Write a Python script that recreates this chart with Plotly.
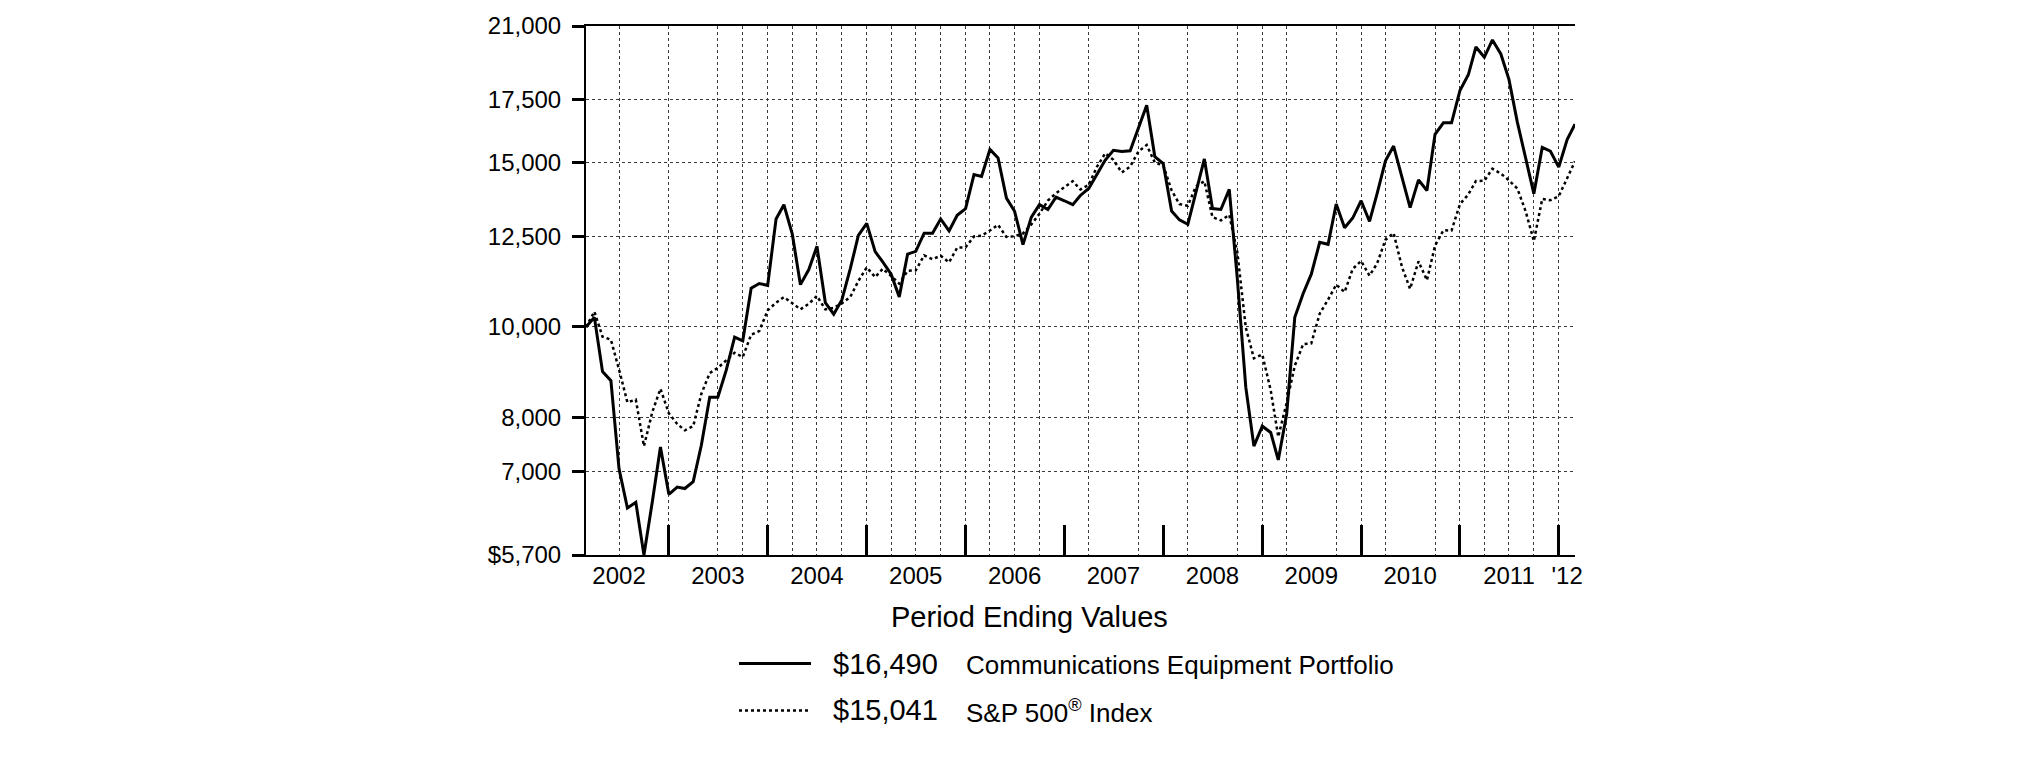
import math
import pandas as pd
import plotly.graph_objects as go

# ---------------- data ----------------
PERIODS = pd.date_range("2002-02-28", periods=121, freq="ME")  # month ends Feb-2002 .. Feb-2012

COMM_EQUIP = [
    10000, 10240, 8960, 8760, 7050, 6400, 6490, 5700, 6500, 7440,
    6620, 6740, 6715, 6830, 7470, 8410, 8410, 8990, 9755, 9665,
    11000, 11130, 11080, 13050, 13515, 12570, 11100, 11520, 12200, 10620,
    10320, 10690, 11540, 12530, 12910, 12040, 11740, 11390, 10770, 11970,
    12050, 12600, 12600, 13050, 12670, 13170, 13390, 14560, 14490, 15490,
    15170, 13740, 13300, 12250, 13110, 13520, 13360, 13770, 13650, 13520,
    13830, 14070, 14560, 15090, 15460, 15410, 15440, 16310, 17270, 15220,
    14960, 13310, 13020, 12880, 13950, 15130, 13390, 13360, 14040, 11240,
    8620, 7455, 7830, 7710, 7205, 8070, 10240, 10860, 11390, 12320,
    12260, 13540, 12770, 13080, 13650, 12970, 13890, 15060, 15620, 14490,
    13420, 14370, 14000, 16080, 16540, 16540, 17910, 18620, 19940, 19440,
    20290, 19600, 18410, 16570, 15200, 13890, 15570, 15430, 14830, 15870,
    16490,
]

SP500 = [
    10000, 10384, 9763, 9690, 9003, 8305, 8360, 7452, 8110, 8587,
    8082, 7874, 7752, 7830, 8479, 8925, 9041, 9203, 9383, 9286,
    9812, 9899, 10418, 10616, 10763, 10605, 10444, 10587, 10796, 10443,
    10484, 10599, 10766, 11200, 11582, 11308, 11541, 11339, 11129, 11482,
    11499, 11932, 11818, 11919, 11727, 12160, 12168, 12499, 12525, 12685,
    12861, 12484, 12505, 12590, 12879, 13217, 13656, 13903, 14102, 14324,
    14034, 14198, 14837, 15345, 15096, 14638, 14850, 15407, 15662, 14997,
    14892, 14004, 13539, 13481, 14145, 14320, 13110, 13003, 13183, 12006,
    9988, 9256, 9344, 8557, 7629, 8294, 9088, 9587, 9604, 10333,
    10698, 11098, 10897, 11541, 11765, 11349, 11692, 12400, 12604, 11590,
    10983, 11758, 11219, 12221, 12692, 12684, 13535, 13864, 14331, 14339,
    14772, 14597, 14354, 14069, 13292, 12358, 13712, 13665, 13805, 14430,
    15041,
]

SERIES_NAMES = ["Communications Equipment Portfolio", "S&P 500<sup>®</sup> Index"]

Y_TICKS = [5700, 7000, 8000, 10000, 12500, 15000, 17500, 21000]
Y_TICK_TEXT = ["$5,700", "7,000", "8,000", "10,000", "12,500", "15,000", "17,500", "21,000"]

GRID_DATES = [
    "2002-06-30", "2002-12-31", "2003-06-30", "2003-09-30", "2003-12-31",
    "2004-03-31", "2004-06-30", "2004-09-30", "2004-12-31", "2005-03-31",
    "2005-06-30", "2005-09-30", "2005-12-31", "2006-03-31", "2006-06-30",
    "2006-09-30", "2007-03-31", "2007-09-30", "2008-03-31", "2008-09-30",
    "2008-12-31", "2009-03-31", "2009-09-30", "2009-12-31", "2010-03-31",
    "2010-09-30", "2010-12-31", "2011-03-31", "2011-06-30", "2011-09-30",
    "2011-12-31",
]
YEAR_END_DATES = ["2002-12-31", "2003-12-31", "2004-12-31", "2005-12-31", "2006-12-31",
                  "2007-12-31", "2008-12-31", "2009-12-31", "2010-12-31", "2011-12-31"]
YEAR_LABEL_DATES = ["2002-06-30", "2003-06-30", "2004-06-30", "2005-06-30", "2006-06-30",
                    "2007-06-30", "2008-06-30", "2009-06-30", "2010-06-30", "2011-06-30",
                    "2012-01-31"]
YEAR_LABELS = ["2002", "2003", "2004", "2005", "2006", "2007", "2008", "2009", "2010",
               "2011", "'12"]

assert len(COMM_EQUIP) == len(PERIODS) == len(SP500)

# ---------------- layout geometry ----------------
W, H = 2025, 761
L, R, T, B = 586, 450, 14, 206
PW, PH = W - L - R, H - T - B
FONT = "Liberation Sans, Arial, Helvetica, sans-serif"


def px(x, y):
    """pixel -> paper coordinates (for legend decorations only)"""
    return (x - L) / PW, (H - B - y) / PH


x_range = [PERIODS[0], PERIODS[-1]]

fig = go.Figure()
fig.add_trace(go.Scatter(x=PERIODS, y=SP500, mode="lines", name=SERIES_NAMES[1],
                         line=dict(color="black", width=2.5, dash="dot"), showlegend=False))
fig.add_trace(go.Scatter(x=PERIODS, y=COMM_EQUIP, mode="lines", name=SERIES_NAMES[0],
                         line=dict(color="black", width=3), showlegend=False))
# helper traces so the overlay axes (year ticks / year labels) are rendered
for ax in ("x2", "x3"):
    fig.add_trace(go.Scatter(x=[PERIODS[0]], y=[10000], xaxis=ax, mode="markers",
                             marker=dict(opacity=0), hoverinfo="skip", showlegend=False))

grid_style = dict(showgrid=True, gridcolor="#3a3a3a", gridwidth=1, griddash="dot")

fig.update_layout(
    width=W, height=H, autosize=False,
    margin=dict(l=L, r=R, t=T, b=B, pad=0),
    paper_bgcolor="white", plot_bgcolor="white",
    font=dict(family=FONT, color="black"),
    xaxis=dict(type="date", range=x_range, tickmode="array", tickvals=GRID_DATES,
               showticklabels=False, ticks="", showline=True, linecolor="black",
               linewidth=2, mirror=True, zeroline=False, **grid_style),
    xaxis2=dict(type="date", range=x_range, overlaying="x", anchor="y", side="bottom",
                tickmode="array", tickvals=YEAR_END_DATES, showticklabels=False,
                ticks="inside", ticklen=30, tickwidth=3, tickcolor="black",
                showgrid=False, showline=False, zeroline=False),
    xaxis3=dict(type="date", range=x_range, overlaying="x", anchor="y", side="bottom",
                tickmode="array", tickvals=YEAR_LABEL_DATES, ticktext=YEAR_LABELS,
                ticks="", showgrid=False, showline=False, zeroline=False,
                tickfont=dict(size=24, family=FONT, color="black"), ticklabelstandoff=4),
    yaxis=dict(type="log", range=[math.log10(5700), math.log10(21000)],
               tickmode="array", tickvals=Y_TICKS, ticktext=Y_TICK_TEXT,
               ticks="outside", ticklen=12, tickwidth=3, tickcolor="black",
               showline=True, linecolor="black", linewidth=2, zeroline=False,
               tickfont=dict(size=24, family=FONT, color="black"), ticklabelstandoff=6,
               **grid_style),
)

# ---------------- legend block ----------------
ann = []
tx, ty = px(1029, 618)
ann.append(dict(text="Period Ending Values", x=tx, y=ty, xref="paper", yref="paper",
                xanchor="center", yanchor="middle", showarrow=False,
                font=dict(size=29, family=FONT, color="black")))

rows = [(666, COMM_EQUIP[-1], SERIES_NAMES[0], dict(color="black", width=3)),
        (714, SP500[-1], SERIES_NAMES[1], dict(color="black", width=2.5, dash="dot"))]
for yy, val, label, line in rows:
    x0, y0 = px(739, yy)
    x1, _ = px(811, yy)
    fig.add_shape(type="line", xref="paper", yref="paper", x0=x0, x1=x1, y0=y0, y1=y0,
                  line=line)
    vx, vy = px(831, yy)
    ann.append(dict(text=f"${val:,}", x=vx, y=vy, xref="paper", yref="paper",
                    xanchor="left", yanchor="middle", showarrow=False,
                    font=dict(size=29, family=FONT, color="black")))
    lx, ly = px(964, yy + 1)
    ann.append(dict(text=label, x=lx, y=ly, xref="paper", yref="paper",
                    xanchor="left", yanchor="middle", showarrow=False,
                    font=dict(size=26, family=FONT, color="black")))

fig.update_layout(annotations=ann)

fig.write_html("out.html", config={"displayModeBar": False},
               post_script="document.body.style.margin='0';")
